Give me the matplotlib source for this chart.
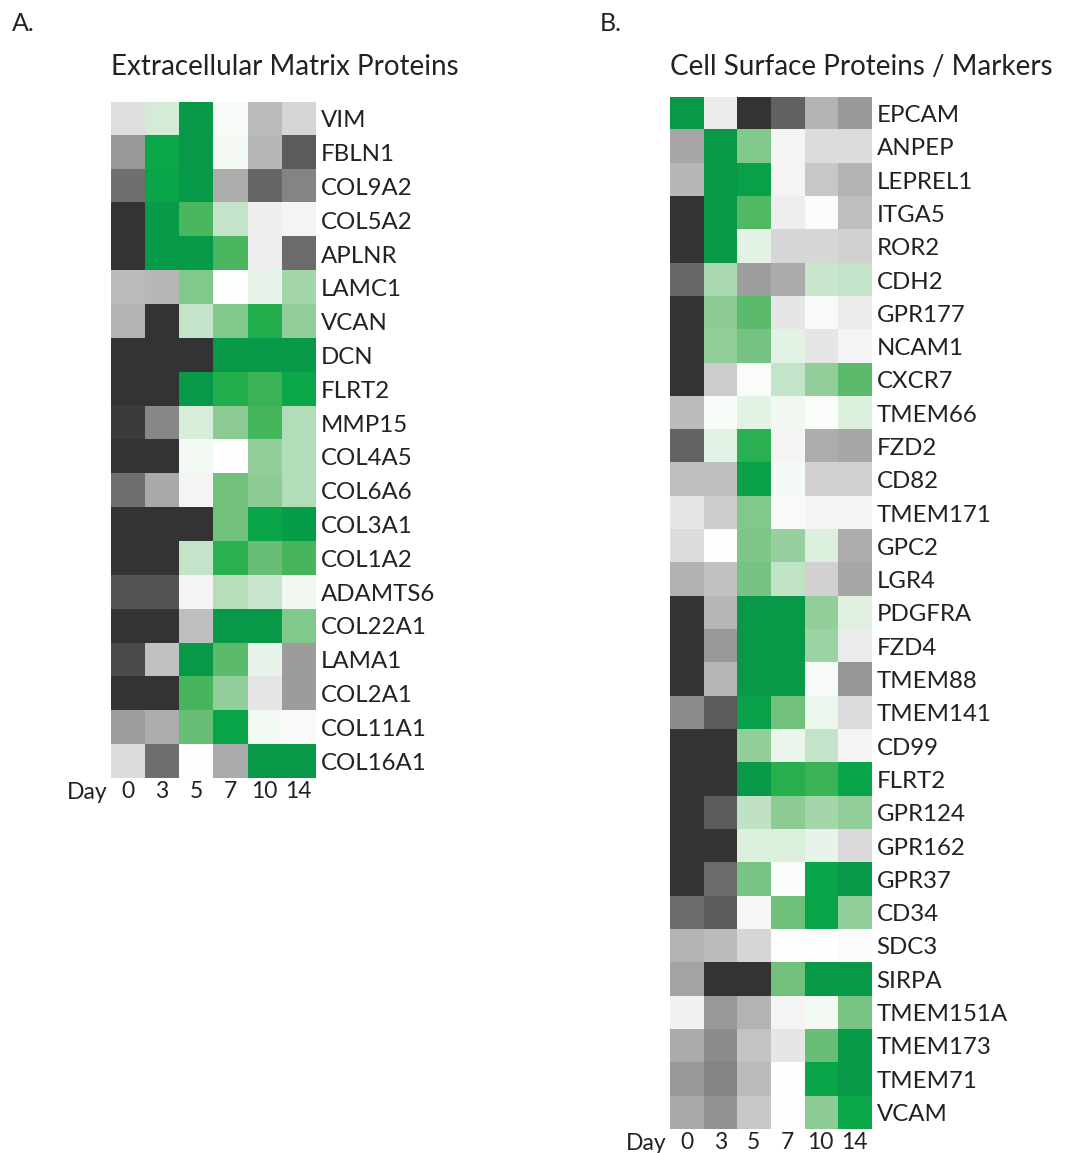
import numpy as np
import matplotlib
matplotlib.use("Agg")
import matplotlib.pyplot as plt
from matplotlib.colors import LinearSegmentedColormap

# --- Data (log-fold change scaled to [-1, 1]) ---
days = ["0", "3", "5", "7", "10", "14"]

ecm_genes = ["VIM", "FBLN1", "COL9A2", "COL5A2", "APLNR", "LAMC1", "VCAN", "DCN",
             "FLRT2", "MMP15", "COL4A5", "COL6A6", "COL3A1", "COL1A2", "ADAMTS6",
             "COL22A1", "LAMA1", "COL2A1", "COL11A1", "COL16A1"]
ecm_values = [
    [-0.15, 0.18, 1.00, 0.03, -0.33, -0.20],
    [-0.50, 0.92, 1.00, 0.05, -0.35, -0.80],
    [-0.70, 0.93, 0.98, -0.40, -0.75, -0.60],
    [-1.00, 0.98, 0.75, 0.25, -0.08, -0.05],
    [-1.00, 0.98, 0.98, 0.75, -0.08, -0.72],
    [-0.33, -0.35, 0.55, 0.00, 0.10, 0.40],
    [-0.37, -1.00, 0.25, 0.55, 0.85, 0.48],
    [-1.00, -1.00, -1.00, 1.00, 1.00, 1.00],
    [-1.00, -1.00, 1.00, 0.85, 0.80, 0.92],
    [-0.96, -0.58, 0.17, 0.50, 0.77, 0.33],
    [-1.00, -1.00, 0.05, 0.01, 0.47, 0.33],
    [-0.70, -0.42, -0.05, 0.62, 0.50, 0.33],
    [-1.00, -1.00, -1.00, 0.62, 0.93, 0.97],
    [-1.00, -1.00, 0.25, 0.83, 0.65, 0.76],
    [-0.83, -0.83, -0.05, 0.32, 0.23, 0.06],
    [-1.00, -1.00, -0.32, 1.00, 1.00, 0.55],
    [-0.88, -0.30, 1.00, 0.70, 0.10, -0.48],
    [-1.00, -1.00, 0.76, 0.48, -0.12, -0.48],
    [-0.47, -0.40, 0.65, 0.93, 0.05, -0.03],
    [-0.17, -0.70, 0.00, -0.41, 1.00, 1.00],
]

surface_genes = ["EPCAM", "ANPEP", "LEPREL1", "ITGA5", "ROR2", "CDH2", "GPR177",
                 "NCAM1", "CXCR7", "TMEM66", "FZD2", "CD82", "TMEM171", "GPC2",
                 "LGR4", "PDGFRA", "FZD4", "TMEM88", "TMEM141", "CD99", "FLRT2",
                 "GPR124", "GPR162", "GPR37", "CD34", "SDC3", "SIRPA", "TMEM151A",
                 "TMEM173", "TMEM71", "VCAM"]
surface_values = [
    [1.00, -0.10, -1.00, -0.77, -0.37, -0.50],
    [-0.43, 1.00, 0.55, -0.05, -0.17, -0.17],
    [-0.35, 1.00, 0.95, -0.05, -0.27, -0.37],
    [-1.00, 1.00, 0.73, -0.08, 0.02, -0.32],
    [-1.00, 1.00, 0.12, -0.20, -0.20, -0.22],
    [-0.74, 0.37, -0.47, -0.41, 0.23, 0.25],
    [-1.00, 0.50, 0.70, -0.12, -0.03, -0.10],
    [-1.00, 0.48, 0.60, 0.12, -0.12, -0.05],
    [-1.00, -0.25, 0.02, 0.25, 0.48, 0.70],
    [-0.33, 0.03, 0.12, 0.06, 0.02, 0.15],
    [-0.76, 0.12, 0.83, -0.05, -0.40, -0.43],
    [-0.31, -0.31, 0.95, 0.04, -0.22, -0.22],
    [-0.12, -0.25, 0.55, -0.03, -0.05, -0.05],
    [-0.17, 0.01, 0.57, 0.46, 0.15, -0.40],
    [-0.38, -0.30, 0.60, 0.27, -0.22, -0.43],
    [-1.00, -0.35, 1.00, 1.00, 0.48, 0.14],
    [-1.00, -0.50, 1.00, 1.00, 0.43, -0.10],
    [-1.00, -0.35, 1.00, 1.00, 0.03, -0.51],
    [-0.56, -0.80, 0.95, 0.62, 0.08, -0.17],
    [-1.00, -1.00, 0.48, 0.09, 0.25, -0.05],
    [-1.00, -1.00, 1.00, 0.84, 0.80, 0.93],
    [-1.00, -0.80, 0.28, 0.50, 0.40, 0.48],
    [-1.00, -1.00, 0.15, 0.15, 0.10, -0.18],
    [-1.00, -0.72, 0.59, 0.02, 0.93, 1.00],
    [-0.72, -0.80, -0.04, 0.63, 0.93, 0.48],
    [-0.37, -0.33, -0.20, 0.00, 0.00, -0.02],
    [-0.45, -1.00, -1.00, 0.62, 1.00, 1.00],
    [-0.07, -0.50, -0.37, -0.05, 0.05, 0.59],
    [-0.41, -0.56, -0.29, -0.12, 0.65, 1.00],
    [-0.50, -0.60, -0.33, 0.00, 0.93, 1.00],
    [-0.42, -0.53, -0.27, 0.01, 0.50, 0.92],
]

# dark grey -> white -> green
cmap = LinearSegmentedColormap.from_list("grey_green", [
    (0.0, "#333333"),
    (0.5, "#ffffff"),
    (0.625, "#c5e5c9"),
    (0.75, "#8ecd96"),
    (0.825, "#6bbf77"),
    (0.9, "#3db356"),
    (0.95, "#0bab48"),
    (1.0, "#079848"),
])

FONT = "Lato"
plt.rcParams["font.family"] = [FONT, "DejaVu Sans"]
TXT = "#222222"

fig = plt.figure(figsize=(10.66, 11.53), dpi=100)


def draw_panel(rect, genes, values, title, letter, letter_x):
    ax = fig.add_axes(rect)
    data = np.array(values)
    ax.imshow(data, cmap=cmap, vmin=-1, vmax=1, aspect="auto", interpolation="nearest")
    for s in ax.spines.values():
        s.set_visible(False)
    ax.yaxis.tick_right()
    ax.set_yticks(range(len(genes)))
    ax.set_yticklabels(genes, fontsize=17.3, color=TXT)
    ax.set_xticks(range(len(days)))
    ax.set_xticklabels(days, fontsize=16.5, color=TXT)
    ax.tick_params(axis="x", length=0, pad=2)
    ax.tick_params(axis="y", length=0, pad=4)
    # "Day" label left of the day tick labels
    ax.text(-0.6, len(genes) - 0.5 + 0.12, "Day", ha="right", va="top",
            fontsize=16.5, color=TXT)
    fig.text(rect[0], 0.942, title, ha="left", va="center", fontsize=20, color=TXT)
    fig.text(letter_x, 0.980, letter, ha="left", va="center", fontsize=18, color=TXT)
    return ax


draw_panel([0.1041, 0.3252, 0.1914, 0.5863], ecm_genes, ecm_values,
           "Extracellular Matrix Proteins", "A.", 0.011)
draw_panel([0.6285, 0.0208, 0.1886, 0.8951], surface_genes, surface_values,
           "Cell Surface Proteins / Markers", "B.", 0.563)

fig.savefig("out.png", dpi=100)
